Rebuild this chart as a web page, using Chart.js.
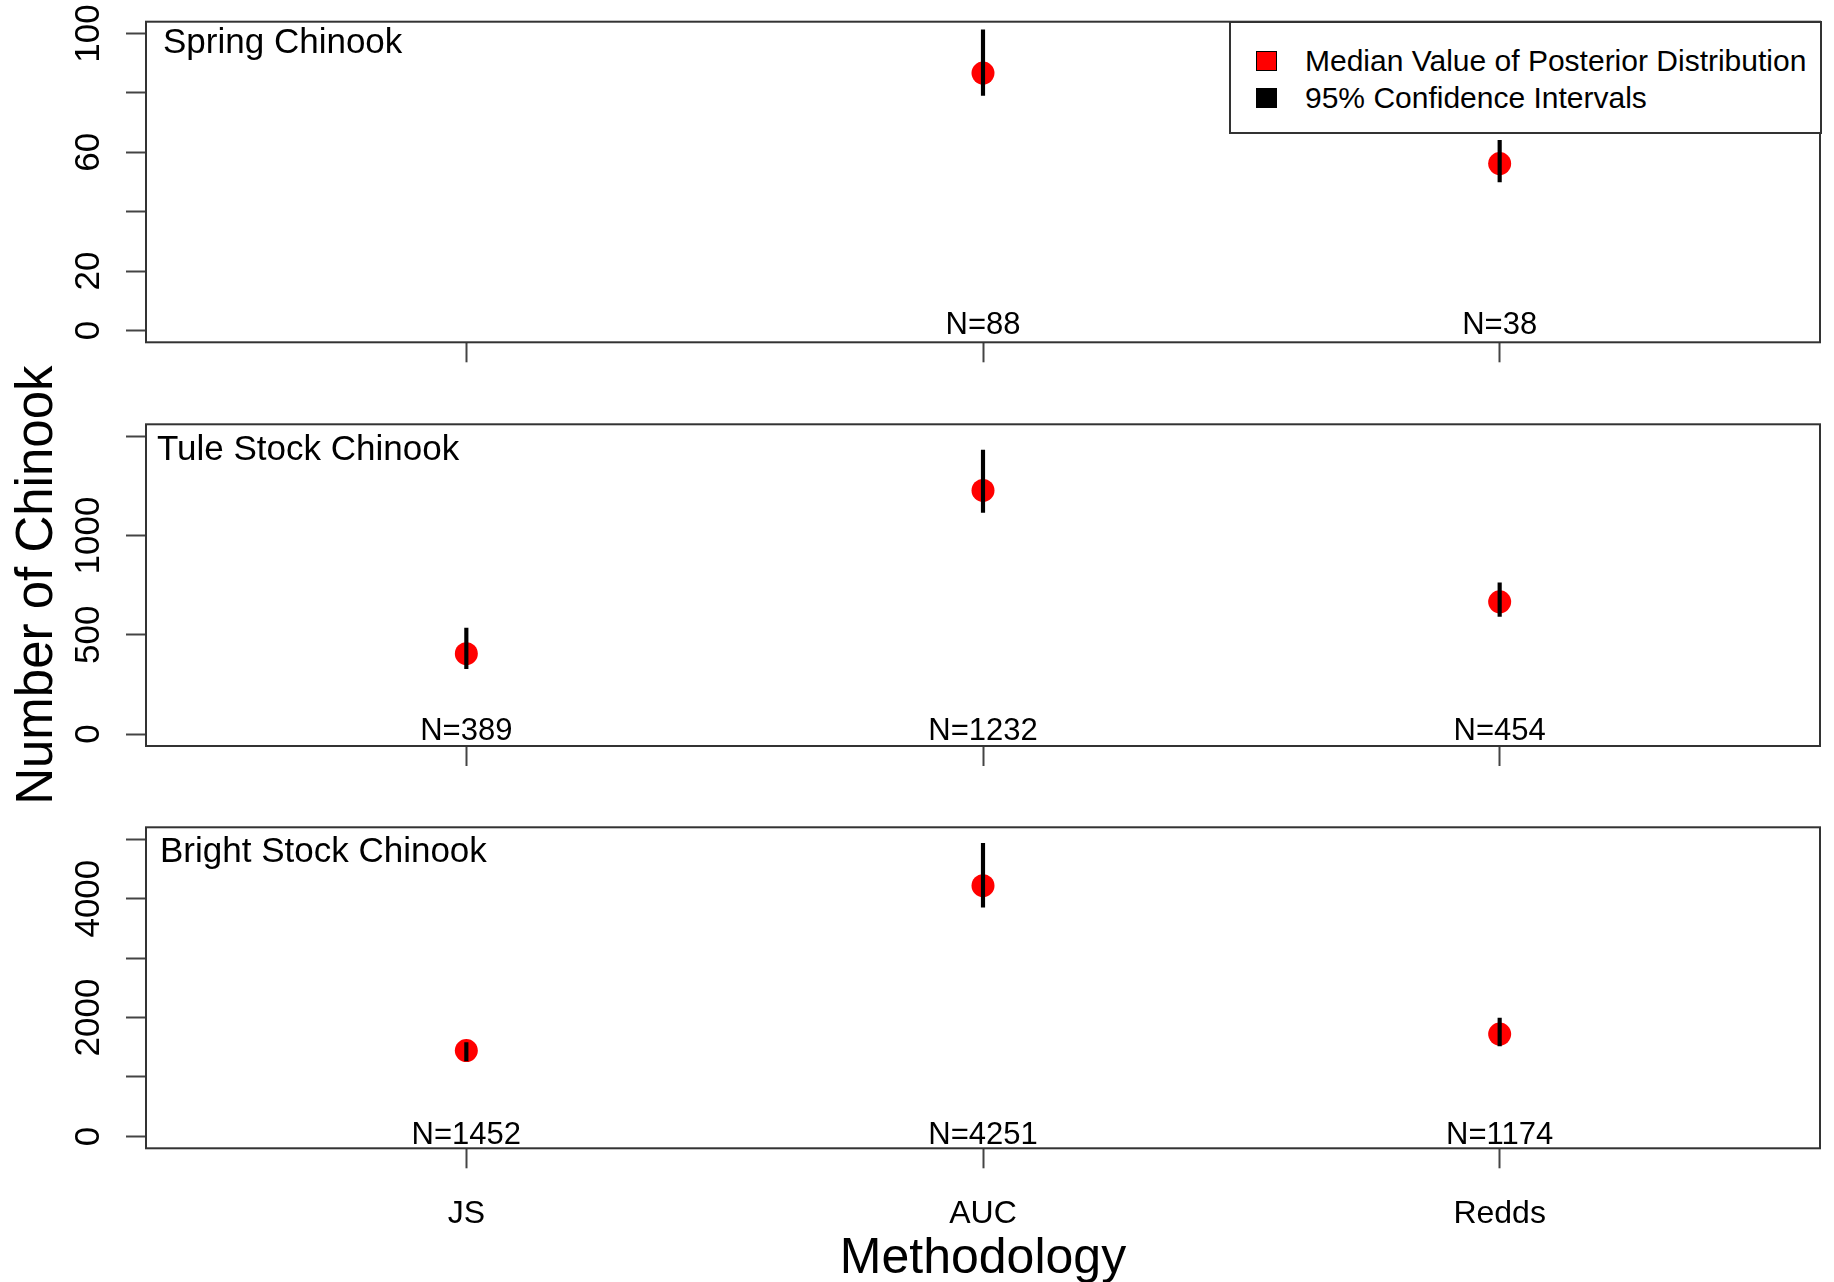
<!DOCTYPE html>
<html>
<head>
<meta charset="utf-8">
<title>Number of Chinook by methodology</title>
<script src="https://cdn.jsdelivr.net/npm/chart.js@4.4.1/dist/chart.umd.min.js"></script>
<style>
  html, body { margin: 0; padding: 0; background: #fff; }
  #page { position: relative; width: 1834px; height: 1282px; overflow: hidden; font-family: 'Liberation Sans', Arial, sans-serif; }
  #page canvas { position: absolute; left: 0; display: block; }
  #legend { position: absolute; left: 1229px; top: 21px; width: 589px; height: 109px; border: 2px solid #333; background: #fff; z-index: 5; }
  #legend .row { position: absolute; left: 0; height: 36px; line-height: 36px; font-size: 30px; color: #000; white-space: nowrap; }
  #legend .sw { position: absolute; left: 25px; top: 8px; width: 19px; height: 18px; border: 1.5px solid #000; }
  #legend .txt { position: absolute; left: 74px; top: 0; }
</style>
</head>
<body>
<div id="page">
  <canvas id="spring" width="1834" height="400" style="top:0px"></canvas>
  <canvas id="tule" width="1834" height="500" style="top:340px"></canvas>
  <canvas id="bright" width="1834" height="492" style="top:790px"></canvas>
  <div id="legend"></div>
</div>
<script>
// ── Data ──────────────────────────────────────────────────
const methods = ['JS', 'AUC', 'Redds'];
const panelNames = ['Spring Chinook', 'Tule Stock Chinook', 'Bright Stock Chinook'];

const springMedian = [null, 86.7, 56.2];
const springLower  = [null, 79.2, 50.0];
const springUpper  = [null, 101.3, 64.0];
const springN      = [null, 88, 38];

const tuleMedian = [405, 1227, 666];
const tuleLower  = [329, 1116, 593];
const tuleUpper  = [534, 1430, 762];
const tuleN      = [389, 1232, 454];

const brightMedian = [1445, 4218, 1721];
const brightLower  = [1270, 3855, 1524];
const brightUpper  = [1580, 4931, 1990];
const brightN      = [1452, 4251, 1174];

const springTicks      = [0, 20, 40, 60, 80, 100];
const springTickLabels = ['0', '20', '', '60', '', '100'];
const tuleTicks        = [0, 500, 1000, 1500];
const tuleTickLabels   = ['0', '500', '1000', ''];
const brightTicks      = [0, 1000, 2000, 3000, 4000, 5000];
const brightTickLabels = ['0', '', '2000', '', '4000', ''];

const legendLabels = ['Median Value of Posterior Distribution', '95% Confidence Intervals'];
const legendColors = ['#ff0000', '#000000'];

// ── Style ─────────────────────────────────────────────────
const FONT = "'Liberation Sans', Arial, sans-serif";
const TICK_SIZE = 35;
const AXIS_W = 146;          // width of the left axis box
const TICK_LEN = 20;
const LABEL_CENTER = 36.5;   // distance from tick end to centre of rotated labels

const measureCtx = document.createElement('canvas').getContext('2d');
function tickPad(labels) {
  measureCtx.font = `${TICK_SIZE}px ${FONT}`;
  const widest = Math.max(...labels.map(l => measureCtx.measureText(l).width));
  return LABEL_CENTER - widest / 2;
}

// box around plot + panel title + N= labels
const panelText = {
  id: 'panelText',
  afterDatasetsDraw(chart, args, opts) {
    const { ctx, chartArea, scales } = chart;
    ctx.save();
    ctx.fillStyle = '#000';
    ctx.font = `35px ${FONT}`;
    ctx.textAlign = 'left';
    ctx.textBaseline = 'alphabetic';
    ctx.fillText(opts.title, chartArea.left + opts.titleDx, chartArea.top + opts.titleBase);

    ctx.font = `31px ${FONT}`;
    ctx.textAlign = 'center';
    opts.counts.forEach((n, i) => {
      if (n == null) return;
      ctx.fillText('N=' + n, scales.x.getPixelForValue(i + 1), chartArea.bottom - opts.nLift);
    });

    ctx.strokeStyle = '#333';
    ctx.lineWidth = 2;
    ctx.strokeRect(chartArea.left, chartArea.top, chartArea.right - chartArea.left, chartArea.bottom - chartArea.top);
    ctx.restore();
  },
};

function renderPanel(canvasId, cfg) {
  const ctx = document.getElementById(canvasId).getContext('2d');
  const ciData = [];
  const medData = [];
  methods.forEach((m, i) => {
    if (cfg.median[i] == null) return;
    ciData.push({ x: i + 1, y: [cfg.lower[i], cfg.upper[i]] });
    medData.push({ x: i + 1, y: cfg.median[i] });
  });

  return new Chart(ctx, {
    type: 'scatter',
    data: {
      datasets: [
        {
          type: 'bar',
          label: legendLabels[1],
          data: ciData,
          backgroundColor: '#000',
          borderWidth: 0,
          barThickness: 3.5,
          order: 0,
        },
        {
          type: 'scatter',
          label: legendLabels[0],
          data: medData,
          backgroundColor: '#ff0000',
          borderWidth: 0,
          pointRadius: 11.5,
          pointHoverRadius: 11.5,
          order: 1,
        },
      ],
    },
    options: {
      responsive: false,
      animation: false,
      events: [],
      layout: { padding: { top: cfg.padTop, right: 14, bottom: 0, left: 0 } },
      plugins: {
        legend: { display: false },
        tooltip: { enabled: false },
        panelText: { title: cfg.title, titleDx: cfg.titleDx, titleBase: cfg.titleBase, counts: cfg.counts, nLift: cfg.nLift },
      },
      scales: {
        x: {
          type: 'linear',
          min: 0.38,
          max: 3.62,
          offset: false,
          grid: { offset: false, drawOnChartArea: false, drawTicks: true, tickLength: TICK_LEN, tickColor: '#444', tickWidth: 2 },
          border: { display: false },
          ticks: {
            display: cfg.showX,
            autoSkip: false,
            maxRotation: 0,
            padding: 26.5,
            color: '#000',
            font: { family: FONT, size: 32 },
            callback: v => methods[Math.round(v) - 1] || '',
          },
          title: {
            display: cfg.showX,
            text: 'Methodology',
            color: '#000',
            font: { family: FONT, size: 50, lineHeight: 0.8 },
            padding: { top: 0, bottom: 3 },
          },
          afterBuildTicks: axis => { axis.ticks = methods.map((m, i) => ({ value: i + 1 })); },
          afterFit: axis => { axis.height = cfg.xAxisH; axis.paddingLeft = 0; axis.paddingRight = 0; },
        },
        y: {
          type: 'linear',
          min: cfg.yMin,
          max: cfg.yMax,
          grid: { drawOnChartArea: false, drawTicks: true, tickLength: TICK_LEN, tickColor: '#444', tickWidth: 2 },
          border: { display: false },
          ticks: {
            autoSkip: false,
            minRotation: 90,
            maxRotation: 90,
            crossAlign: 'center',
            padding: tickPad(cfg.tickLabels),
            color: '#000',
            font: { family: FONT, size: TICK_SIZE },
            callback: (v, i) => cfg.tickLabels[i],
          },
          title: {
            display: cfg.showYTitle,
            text: 'Number of Chinook',
            color: '#000',
            font: { family: FONT, size: 51, lineHeight: 1 },
            padding: { top: 12, bottom: 0 },
          },
          afterBuildTicks: axis => { axis.ticks = cfg.ticks.map(v => ({ value: v })); },
          afterFit: axis => { axis.width = AXIS_W; axis.paddingTop = 0; axis.paddingBottom = 0; },
        },
      },
    },
    plugins: [panelText],
  });
}

renderPanel('spring', {
  title: panelNames[0], titleDx: 17, titleBase: 31,
  median: springMedian, lower: springLower, upper: springUpper, counts: springN, nLift: 8.5,
  ticks: springTicks, tickLabels: springTickLabels, yMin: -4, yMax: 104,
  padTop: 21.7, xAxisH: 57.7, showX: false, showYTitle: false,
});

renderPanel('tule', {
  title: panelNames[1], titleDx: 11, titleBase: 36,
  median: tuleMedian, lower: tuleLower, upper: tuleUpper, counts: tuleN, nLift: 6,
  ticks: tuleTicks, tickLabels: tuleTickLabels, yMin: -60, yMax: 1560,
  padTop: 84.3, xAxisH: 94, showX: false, showYTitle: true,
});

renderPanel('bright', {
  title: panelNames[2], titleDx: 14, titleBase: 34.5,
  median: brightMedian, lower: brightLower, upper: brightUpper, counts: brightN, nLift: 4.5,
  ticks: brightTicks, tickLabels: brightTickLabels, yMin: -200, yMax: 5200,
  padTop: 37.3, xAxisH: 133.7, showX: true, showYTitle: false,
});

// ── Legend (inside the top panel) ─────────────────────────
const legendEl = document.getElementById('legend');
legendLabels.forEach((label, i) => {
  const row = document.createElement('div');
  row.className = 'row';
  row.style.top = (20 + i * 37.4) + 'px';
  row.innerHTML = `<span class="sw" style="background:${legendColors[i]}"></span><span class="txt">${label}</span>`;
  legendEl.appendChild(row);
});
</script>
</body>
</html>
